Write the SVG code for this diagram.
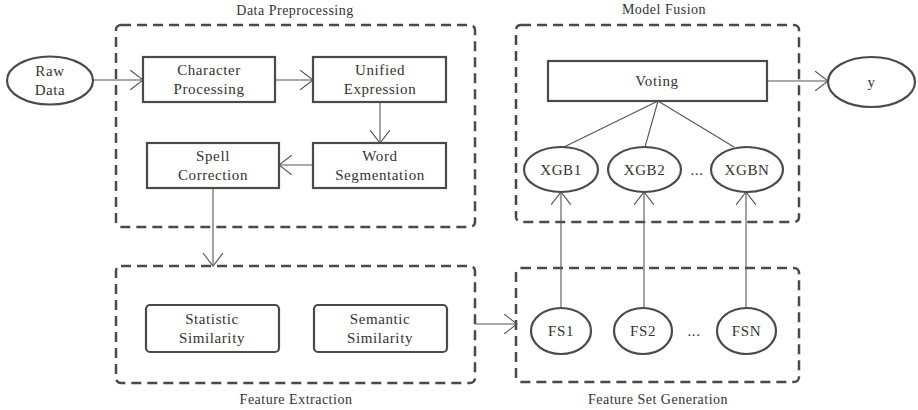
<svg xmlns="http://www.w3.org/2000/svg" width="918" height="410" viewBox="0 0 918 410">
<style>
text{font-family:"Liberation Serif","Times New Roman",serif;fill:#333;text-anchor:middle}
.t{font-size:15px;letter-spacing:0.6px}
.g{font-size:14px;letter-spacing:0.5px}
.grp{fill:none;stroke:#4a4a4a;stroke-width:2.5;stroke-dasharray:10,6}
.box{fill:#fff;stroke:#4a4a4a;stroke-width:2.2}
.ell{fill:#fff;stroke:#4a4a4a;stroke-width:2.2}
.c{fill:none;stroke:#555;stroke-width:1.1}
</style>
<defs>
<marker id="arr" viewBox="0 0 14 20" refX="13" refY="10" markerWidth="14" markerHeight="20" orient="auto" markerUnits="userSpaceOnUse">
<path d="M0,0 L13,10 L0,20" fill="none" stroke="#555" stroke-width="1.1"/>
</marker>
</defs>
<g id="group-data-preprocessing">
<rect class="grp" x="116" y="25" width="359" height="202" rx="5"/>
<text class="g" x="295" y="15">Data Preprocessing</text>
</g>
<g id="group-feature-extraction">
<rect class="grp" x="116" y="266" width="359" height="117" rx="5"/>
<text class="g" x="296" y="404">Feature Extraction</text>
</g>
<g id="group-model-fusion">
<rect class="grp" x="516" y="25" width="283" height="197" rx="5"/>
<text class="g" x="664" y="14">Model Fusion</text>
</g>
<g id="group-feature-set-generation">
<rect class="grp" x="516" y="268" width="283" height="114" rx="5"/>
<text class="g" x="658" y="404">Feature Set Generation</text>
</g>
<g id="connectors">
<line class="c" x1="93" y1="80" x2="143" y2="80" marker-end="url(#arr)"/>
<line class="c" x1="275" y1="80" x2="313" y2="80" marker-end="url(#arr)"/>
<line class="c" x1="380" y1="102" x2="380" y2="143" marker-end="url(#arr)"/>
<line class="c" x1="313" y1="165" x2="279" y2="165" marker-end="url(#arr)"/>
<line class="c" x1="213" y1="188" x2="213" y2="266" marker-end="url(#arr)"/>
<line class="c" x1="476" y1="324" x2="517" y2="324" marker-end="url(#arr)"/>
<line class="c" x1="561" y1="308" x2="561" y2="192" marker-end="url(#arr)"/>
<line class="c" x1="644" y1="308" x2="644" y2="192" marker-end="url(#arr)"/>
<line class="c" x1="746" y1="308" x2="746" y2="192" marker-end="url(#arr)"/>
<line class="c" x1="658" y1="101" x2="564" y2="147"/>
<line class="c" x1="658" y1="101" x2="645" y2="147"/>
<line class="c" x1="658" y1="101" x2="734" y2="147"/>
<line class="c" x1="767" y1="81" x2="828" y2="81" marker-end="url(#arr)"/>
</g>
<g id="raw-data">
<ellipse class="ell" cx="50" cy="80.5" rx="43" ry="24"/>
<text class="t" x="50" y="76">Raw</text>
<text class="t" x="50" y="95">Data</text>
</g>
<g id="character-processing">
<rect class="box" x="143" y="57" width="132" height="45"/>
<text class="t" x="209" y="75">Character</text>
<text class="t" x="209" y="94">Processing</text>
</g>
<g id="unified-expression">
<rect class="box" x="313" y="57" width="133" height="45"/>
<text class="t" x="380" y="75">Unified</text>
<text class="t" x="380" y="94">Expression</text>
</g>
<g id="word-segmentation">
<rect class="box" x="313" y="143" width="133" height="45"/>
<text class="t" x="380" y="161">Word</text>
<text class="t" x="380" y="180">Segmentation</text>
</g>
<g id="spell-correction">
<rect class="box" x="147" y="143" width="132" height="45"/>
<text class="t" x="213" y="161">Spell</text>
<text class="t" x="213" y="180">Correction</text>
</g>
<g id="statistic-similarity">
<rect class="box" x="146" y="305" width="133" height="47" rx="4"/>
<text class="t" x="212" y="324">Statistic</text>
<text class="t" x="212" y="343">Similarity</text>
</g>
<g id="semantic-similarity">
<rect class="box" x="314" y="305" width="133" height="47" rx="4"/>
<text class="t" x="380" y="324">Semantic</text>
<text class="t" x="380" y="343">Similarity</text>
</g>
<g id="fs1">
<ellipse class="ell" cx="561" cy="331" rx="30" ry="23"/>
<text class="t" x="561" y="336">FS1</text>
</g>
<g id="fs2">
<ellipse class="ell" cx="643" cy="331" rx="29" ry="23"/>
<text class="t" x="643" y="336">FS2</text>
</g>
<text class="t" x="694" y="336">...</text>
<g id="fsn">
<ellipse class="ell" cx="746.5" cy="331" rx="29.5" ry="23"/>
<text class="t" x="746.5" y="336">FSN</text>
</g>
<g id="xgb1">
<ellipse class="ell" cx="561" cy="169.5" rx="37" ry="22.5"/>
<text class="t" x="561" y="175">XGB1</text>
</g>
<g id="xgb2">
<ellipse class="ell" cx="644.5" cy="169.5" rx="36.5" ry="22.5"/>
<text class="t" x="644.5" y="175">XGB2</text>
</g>
<text class="t" x="697" y="175">...</text>
<g id="xgbn">
<ellipse class="ell" cx="747" cy="169.5" rx="36" ry="22.5"/>
<text class="t" x="747" y="175">XGBN</text>
</g>
<g id="voting">
<rect class="box" x="548" y="61" width="219" height="40"/>
<text class="t" x="657" y="86">Voting</text>
</g>
<g id="y">
<ellipse class="ell" cx="871.5" cy="82" rx="43.5" ry="25"/>
<text class="t" x="871.5" y="87">y</text>
</g>
</svg>
